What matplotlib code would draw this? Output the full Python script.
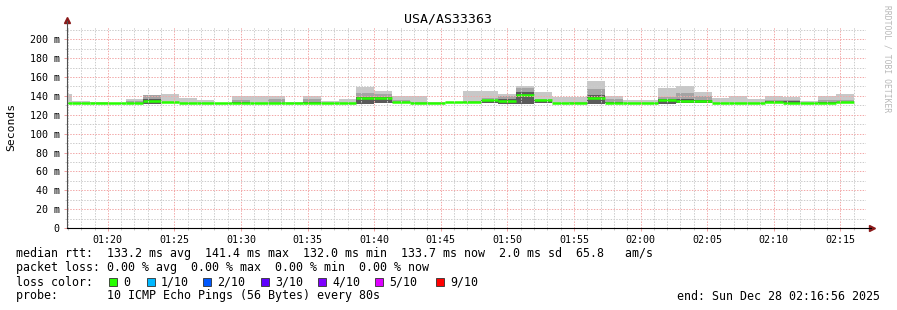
import matplotlib
matplotlib.use("Agg")
import matplotlib.pyplot as plt
from matplotlib.ticker import MultipleLocator, FuncFormatter
from matplotlib.patches import Rectangle
import numpy as np

# Dados (ms), um valor por passo de 80 s
t_primeiro = 4560          # 01:16:00 em segundos desde 00:00
passo = 80
t_ini, t_fim = 4616, 8216  # 01:16:56 .. 02:16:56

mediana = [132.5, 132.3, 132.0, 132.0, 132.0, 135.0, 133.2, 132.0, 132.0, 132.0,
           132.8, 132.0, 132.0, 132.0, 132.0, 132.0, 132.0, 137.6, 138.0, 133.2,
           132.1, 132.3, 133.5, 133.7, 135.6, 134.2, 141.4, 136.0, 132.3, 132.8,
           137.4, 132.0, 132.0, 132.0, 136.0, 134.8, 135.0, 132.6, 132.6, 132.0,
           134.0, 132.0, 132.0, 132.5, 133.7]

fumaca_max = [142.0, 135.0, 134.0, 132.0, 137.0, 140.5, 142.5, 137.5, 135.4, 132.0,
              140.0, 139.7, 140.0, 133.5, 140.4, 135.0, 136.2, 149.3, 145.7, 140.4,
              139.7, 134.0, 134.0, 145.7, 145.7, 142.5, 151.0, 144.0, 138.6, 138.6,
              155.7, 139.7, 136.0, 135.4, 148.6, 150.3, 144.0, 137.6, 140.4, 136.2,
              140.4, 139.0, 135.0, 140.4, 142.5]

fumaca_meio = [132.0, 132.0, 132.0, 132.0, 135.0, 140.5, 134.0, 132.0, 132.0, 132.0,
               135.5, 132.0, 137.0, 132.0, 137.0, 132.0, 132.0, 143.0, 142.5, 136.0,
               134.0, 132.0, 132.0, 134.5, 137.5, 140.0, 148.5, 137.0, 132.0, 134.0,
               147.0, 137.0, 132.0, 132.0, 139.0, 143.0, 140.0, 132.0, 132.0, 132.0,
               136.0, 136.0, 132.0, 136.0, 135.5]

fumaca_escura = [132.0, 132.0, 132.0, 132.0, 132.0, 137.0, 132.0, 132.0, 132.0, 132.0,
                 133.5, 132.0, 132.0, 132.0, 133.5, 132.0, 132.0, 139.0, 139.0, 133.5,
                 132.0, 132.0, 132.0, 134.0, 136.0, 136.5, 144.0, 136.0, 132.0, 132.0,
                 141.0, 133.5, 132.0, 132.0, 137.0, 137.0, 136.0, 132.0, 132.0, 132.0,
                 134.5, 134.5, 132.0, 133.5, 133.5]

fumaca_min = [132.0, 132.0, 132.0, 132.0, 132.0, 131.5, 132.0, 132.0, 132.0, 132.0,
              132.0, 132.0, 132.0, 132.0, 132.0, 132.0, 132.0, 131.0, 132.0, 132.0,
              132.0, 132.0, 132.0, 132.0, 132.0, 131.5, 131.5, 132.0, 132.0, 132.0,
              131.5, 132.0, 132.0, 132.0, 131.5, 132.0, 132.0, 132.0, 132.0, 132.0,
              132.0, 132.0, 132.0, 132.0, 132.0]

perda_rotulos = ["0", "1/10", "2/10", "3/10", "4/10", "5/10", "9/10"]
perda_cores = ["#26ff00", "#00b8ff", "#0059ff", "#5e00ff", "#7e00ff", "#dd00ff", "#ff0000"]

linha_rtt = ("median rtt:  133.2 ms avg  141.4 ms max  132.0 ms min  "
             "133.7 ms now  2.0 ms sd  65.8   am/s")
linha_perda = "packet loss: 0.00 % avg  0.00 % max  0.00 % min  0.00 % now"
linha_probe = "probe:       10 ICMP Echo Pings (56 Bytes) every 80s"
linha_fim = "end: Sun Dec 28 02:16:56 2025"

W, H = 897, 310
MONO = "DejaVu Sans Mono"

fig = plt.figure(figsize=(W / 100, H / 100), dpi=100)
fig.patch.set_facecolor("white")
ax = fig.add_axes([67 / W, 1 - 228 / H, 799 / W, 201 / H])

x = t_primeiro + passo * np.arange(len(mediana))
lo = np.array(fumaca_min)
for topo, cor in [(fumaca_max, "#c8c8c8"), (fumaca_meio, "#a4a4a4"), (fumaca_escura, "#5a5a5a")]:
    ax.bar(x, np.array(topo) - lo, bottom=lo, width=passo, align="edge",
           color=cor, linewidth=0, antialiased=False, zorder=1)
ax.hlines(mediana, x, x + passo, colors="#26ff00", linewidth=1.8, zorder=2)

ax.set_xlim(t_ini, t_fim)
ax.set_ylim(0, 213)

ax.xaxis.set_major_locator(MultipleLocator(300))
ax.xaxis.set_minor_locator(MultipleLocator(60))
ax.xaxis.set_major_formatter(FuncFormatter(lambda v, p: f"{int(v) // 3600:02d}:{int(v) % 3600 // 60:02d}"))
ax.yaxis.set_major_locator(MultipleLocator(20))
ax.yaxis.set_minor_locator(MultipleLocator(10))
ax.yaxis.set_major_formatter(FuncFormatter(lambda v, p: "0" if v == 0 else f"{int(round(v))} m"))

ax.set_axisbelow(False)
ax.grid(which="minor", color="#cccccc", linestyle=(0, (1.4, 1.4)), linewidth=0.72)
ax.grid(which="major", color="#f2a8a8", linestyle=(0, (1.4, 1.4)), linewidth=0.72)

for s in ["top", "right", "left", "bottom"]:
    ax.spines[s].set_visible(False)
ax.plot([0, 0], [0, 1.03], transform=ax.transAxes, color="#505050", lw=0.8, clip_on=False, zorder=3)
ax.plot([0, 1.006], [0, 0], transform=ax.transAxes, color="#000000", lw=0.8, clip_on=False, zorder=3)
ax.plot([0], [1.035], marker="^", ms=4, color="#8b1a1a", transform=ax.transAxes, clip_on=False)
ax.plot([1.007], [0], marker=">", ms=4, color="#8b1a1a", transform=ax.transAxes, clip_on=False)

ax.tick_params(axis="both", which="major", length=2.2, width=0.7, color="#f0a0a0",
               labelsize=7.2, labelcolor="#000000")
ax.tick_params(axis="both", which="minor", length=1.5, width=0.7, color="#c8c8c8")
ax.tick_params(axis="y", which="major", pad=3)
ax.tick_params(axis="x", which="major", pad=2.5)
for lab in ax.get_xticklabels() + ax.get_yticklabels():
    lab.set_family(MONO)

fig.text(448 / W, 1 - 19 / H, "USA/AS33363", family=MONO, fontsize=9.5, ha="center", va="center")
fig.text(11 / W, 1 - 127 / H, "Seconds", family=MONO, fontsize=8.2, rotation=90, ha="center", va="center")
fig.text(887 / W, 1 - 59 / H, "RRDTOOL / TOBI OETIKER", family=MONO, fontsize=5.8,
         rotation=270, color="#b8b8b8", ha="center", va="center")

fs = 8.4
fig.text(16 / W, 1 - 254 / H, linha_rtt, family=MONO, fontsize=fs, va="center")
fig.text(16 / W, 1 - 268 / H, linha_perda, family=MONO, fontsize=fs, va="center")
fig.text(16 / W, 1 - 282 / H, "loss color:", family=MONO, fontsize=fs, va="center")
fig.text(16 / W, 1 - 296 / H, linha_probe, family=MONO, fontsize=fs, va="center")
fig.text(880 / W, 1 - 296 / H, linha_fim, family=MONO, fontsize=fs, va="center", ha="right")

caixa_x = [109, 147, 203, 261, 318, 375, 436]
for bx, cor, rot in zip(caixa_x, perda_cores, perda_rotulos):
    fig.patches.append(Rectangle((bx / W, 1 - 286 / H), 8 / W, 8 / H, transform=fig.transFigure,
                                 facecolor=cor, edgecolor="#303030", linewidth=0.6))
    fig.text((bx + 14) / W, 1 - 282 / H, rot, family=MONO, fontsize=fs, va="center")

fig.savefig("out.png", dpi=100, facecolor="white")
